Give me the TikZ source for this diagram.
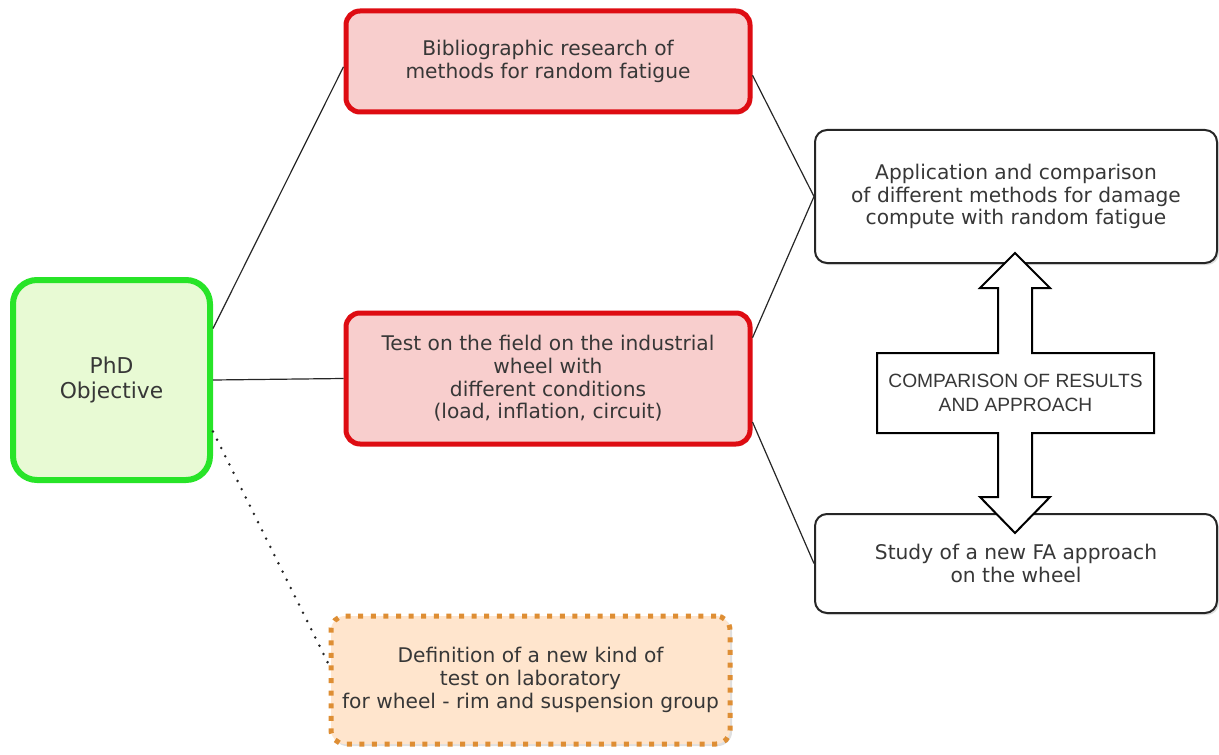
\documentclass[tikz,border=0pt]{standalone}
\usepackage{fontspec}
\setmainfont{DejaVu Sans}
\newfontfamily\arialfont{Liberation Sans}
\usetikzlibrary{calc, shadows}
\definecolor{phdgreen}{RGB}{40,228,40}
\definecolor{phdfill}{RGB}{232,250,212}
\definecolor{boxred}{RGB}{222,12,18}
\definecolor{redfill}{RGB}{248,206,205}
\definecolor{boxorange}{RGB}{222,142,52}
\definecolor{orangefill}{RGB}{255,229,205}
\definecolor{txtgray}{RGB}{55,55,55}

\begin{document}
\begin{tikzpicture}[x=0.5pt, y=-0.5pt,
        font=\fontsize{10.1pt}{11.3pt}\selectfont, text=txtgray,
        shade/.style={drop shadow={opacity=0.25, shadow xshift=1pt, shadow yshift=-1pt}},
        phdbox/.style={draw=phdgreen, fill=phdfill, line width=3pt, rounded corners=12pt,
            minimum width=98.5pt, minimum height=100pt, align=center, shade,
            font=\fontsize{10.9pt}{12.5pt}\selectfont},
        redbox/.style={draw=boxred, fill=redfill, line width=2.5pt, rounded corners=7pt,
            minimum width=202pt, align=center, shade},
        whitebox/.style={draw=black!85, fill=white, line width=1pt, rounded corners=6pt,
            minimum width=201pt, align=center, shade},
        dotbox/.style={draw=boxorange, fill=orangefill, line width=2.5pt, rounded corners=7pt,
            dash pattern=on 2.5pt off 3.8pt, minimum width=199.5pt, minimum height=64pt,
            align=center, shade},
        link/.style={draw=black!85, line width=0.6pt}]
        % Rahmen
        \useasboundingbox (0,0) rectangle (1219,754);
        % Knoten
        \node[phdbox] (phd) at (111.5,380) {PhD\\Objective};
        \node[redbox, minimum height=50.5pt] (bib) at (548,61.5)
            {Bibliographic research of\\methods for random fatigue};
        \node[redbox, minimum height=65.5pt] (test) at (548,378.5)
            {Test on the field on the industrial\\wheel with\\different conditions\\(load, inflation, circuit)};
        \node[dotbox] (def) at (530.5,680)
            {Definition of a new kind of\\test on laboratory\\for wheel - rim and suspension group};
        \node[whitebox, minimum height=66.5pt] (app) at (1016,196.5)
            {Application and comparison\\of different methods for damage\\compute with random fatigue};
        \node[whitebox, minimum height=49.5pt] (study) at (1016,563.5)
            {Study of a new FA approach\\on the wheel};
        % Doppelpfeil
        \draw[fill=white, draw=black, line width=1pt, line join=miter]
            (1015,253) -- (1050,288) -- (1032,288) -- (1032,353) -- (1154,353) -- (1154,433)
            -- (1032,433) -- (1032,497) -- (1050,497) -- (1015,533) -- (980,497) -- (998,497)
            -- (998,433) -- (877,433) -- (877,353) -- (998,353) -- (998,288) -- (980,288) -- cycle;
        \node[align=center, font=\arialfont\fontsize{9.6pt}{11.7pt}\selectfont] (cmp) at (1015.5,393)
            {COMPARISON OF RESULTS\\AND APPROACH};
        % Verbindungen
        \draw[link] ($(phd.north east)!0.25!(phd.south east)$) -- ($(bib.north west)!0.55!(bib.south west)$);
        \draw[link] (phd.east) -- (test.west);
        \draw[link, line width=1.4pt, line cap=round, dash pattern=on 0pt off 4.6pt]
            ($(phd.north east)!0.75!(phd.south east)$) -- ($(def.north west)!0.38!(def.south west)$);
        \draw[link] ($(bib.north east)!0.63!(bib.south east)$) -- (app.west);
        \draw[link] ($(test.north east)!0.2!(test.south east)$) -- (app.west);
        \draw[link] ($(test.north east)!0.82!(test.south east)$) -- (study.west);
    \end{tikzpicture}
\end{document}
